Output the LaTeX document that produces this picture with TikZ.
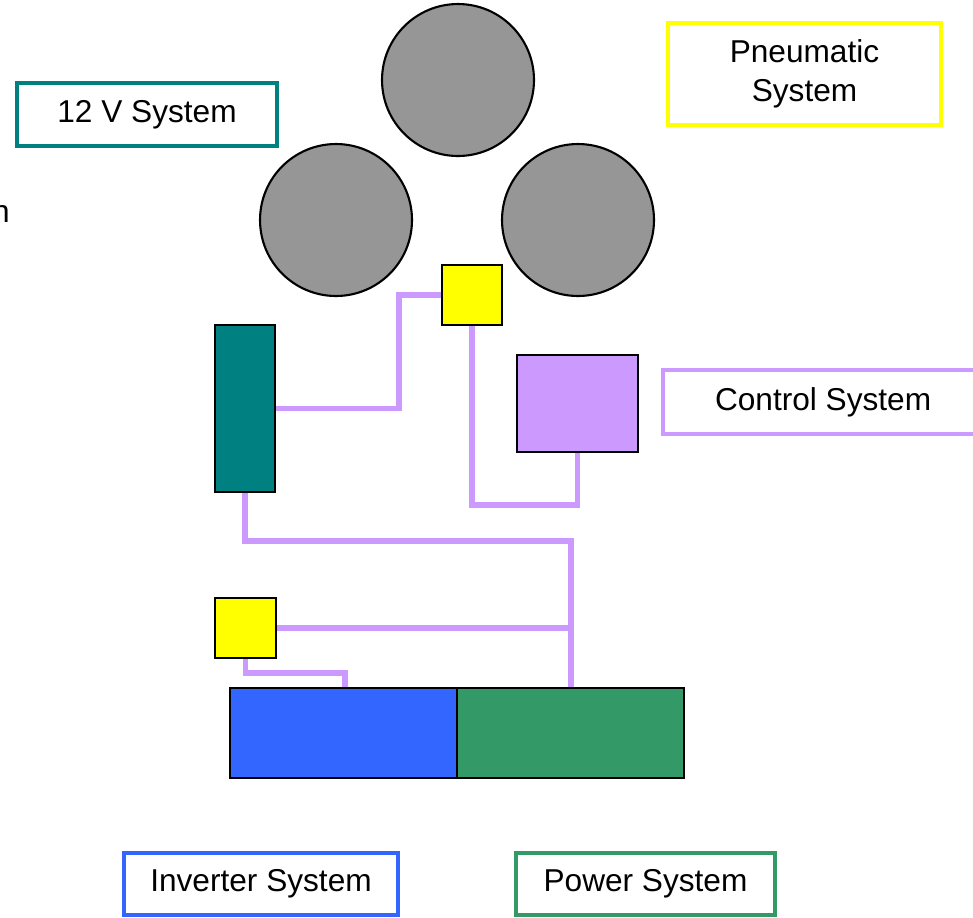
\documentclass[tikz,border=0pt]{standalone}
\usepackage{fontspec}
\setmainfont{Liberation Sans}
\usepackage{xcolor}
\usepackage{tikz}
\usetikzlibrary{
    shapes,
    positioning,
    calc
}
\definecolor{teal12}{HTML}{008080}
\definecolor{pneu}{HTML}{FFFF00}
\definecolor{ctrl}{HTML}{CC99FF}
\definecolor{inv}{HTML}{3366FF}
\definecolor{pow}{HTML}{339966}
\definecolor{tyre}{HTML}{969696}
\tikzset{
  part/.style = {
      draw=black,
      line width=1.2pt,
      rectangle,
      inner sep=0pt
  },
  wheel/.style = {
      draw=black,
      line width=1.2pt,
      circle,
      fill=tyre,
      minimum size=3.04cm,
      inner sep=0pt
  },
  tag/.style = {
      rectangle,
      line width=2.4pt,
      fill=white,
      align=center,
      font=\fontsize{18}{22}\selectfont,
      inner sep=0pt
  },
  wire/.style = {
      draw=ctrl,
      line width=3.4pt,
      line join=miter
  }
}

\begin{document}
\begin{tikzpicture}[x=0.02cm, y=-0.02cm]
    \useasboundingbox (0,0) rectangle (973,917);
    % Wheels
    \node[wheel] (w1) at (458,80) {};
    \node[wheel] (w2) at (336,220) {};
    \node[wheel] (w3) at (578,220) {};
    % Parts
    \node[part, fill=pneu, minimum width=1.2cm, minimum height=1.2cm] (valve) at (472,295) {};
    \node[part, fill=teal12, minimum width=1.2cm, minimum height=3.34cm] (bat) at (245,408.5) {};
    \node[part, fill=ctrl, minimum width=2.42cm, minimum height=1.94cm] (ecu) at (577.5,403.5) {};
    \node[part, fill=pneu, minimum width=1.22cm, minimum height=1.2cm] (valve2) at (245.5,628) {};
    \node[part, fill=inv, minimum width=4.54cm, minimum height=1.8cm] (inv) at (343.5,733) {};
    \node[part, fill=pow, minimum width=4.54cm, minimum height=1.8cm] (pow) at (570.5,733) {};
    % Labels
    \node[tag, draw=teal12, minimum width=5.2cm, minimum height=1.26cm] (l12v) at (147,114.5) {12 V System};
    \node[tag, draw=pneu, minimum width=5.46cm, minimum height=2.04cm] (lpneu) at (804.5,74) {Pneumatic\\System};
    \node[tag, draw=ctrl, minimum height=1.28cm, inner xsep=1.04cm] (lctrl) at (823,402) {\makebox[4.32cm][l]{Control System}};
    \node[tag, draw=inv, minimum width=5.48cm, minimum height=1.24cm] (linv) at (261,884) {Inverter System};
    \node[tag, draw=pow, minimum width=5.18cm, minimum height=1.24cm] (lpow) at (645.5,884) {Power System};
    \node[anchor=base east, inner sep=0pt, font=\fontsize{18}{22}\selectfont] (cut) at (10,222) {n};
    % Wiring
    \coordinate (j1) at (399,295);
    \coordinate (j2) at (525,505);
    \coordinate (j3) at (571,541);
    \coordinate (j4) at (345,673);
    \path[wire] (bat.east) -| (j1) -- (valve.west);
    \path[wire] (valve.south) |- (j2) -| (ecu.south);
    \path[wire] (bat.south) |- (j3) -- (j3 |- pow.north);
    \path[wire] (valve2.east) -- (valve2.east -| j3);
    \path[wire] (valve2.south) |- (j4) -- (j4 |- inv.north);
\end{tikzpicture}
\end{document}
